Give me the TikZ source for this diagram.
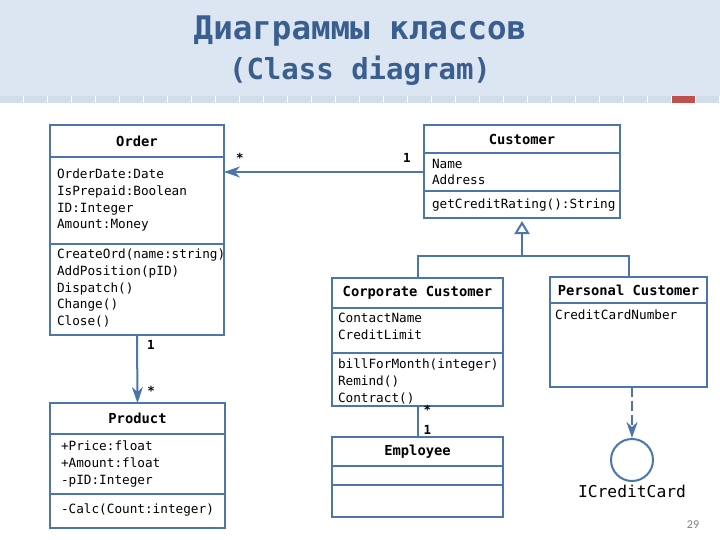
\documentclass[tikz,border=0pt]{standalone}
\usepackage{fontspec}
\setmonofont{DejaVu Sans Mono}
\setsansfont{Carlito}
\usetikzlibrary{positioning,arrows.meta}
\definecolor{umlblue}{RGB}{74,118,172}
\definecolor{titleblue}{RGB}{58,95,143}
\definecolor{bandblue}{RGB}{220,230,242}
\definecolor{stripblue}{RGB}{210,221,236}
\definecolor{markred}{RGB}{192,80,77}

\begin{document}
\begin{tikzpicture}[
    x=1pt, y=-1pt,
    line width=2pt,
    color=umlblue,
    every node/.style={text=black, font=\ttfamily\fontsize{12.7}{16.7}\selectfont},
    box/.style={draw=umlblue, fill=white, rectangle, inner sep=0pt, outer sep=0pt},
    head/.style={box, font=\ttfamily\bfseries\fontsize{13.8}{16.7}\selectfont},
    field/.style={anchor=north west, align=left, inner sep=0pt},
    mult/.style={font=\ttfamily\bfseries\fontsize{12.5}{14}\selectfont, inner sep=1pt},
    assoc/.style={-{Stealth[length=16pt, width=11pt, inset=5pt]}},
    gen/.style={-{Triangle[open, length=13pt, width=15pt, fill=white]}, shorten >=3pt},
    realize/.style={dash pattern=on 10pt off 4pt, -{Stealth[length=16pt, width=11pt, inset=5pt]}}
]
    \useasboundingbox (0,0) rectangle (720,540);

    % --- Title band ---
    \fill[bandblue] (0,0) rectangle (720,96);
    \foreach \i in {0,...,29}
        \fill[stripblue] ({\i*24},96) rectangle ({\i*24+23},103);
    \fill[markred] (672,96) rectangle (695,103);

    \node[text=titleblue, font=\ttfamily\bfseries\fontsize{32.5}{38}\selectfont] (title1) at (360,31) {Диаграммы классов};
    \node[text=titleblue, font=\ttfamily\bfseries\fontsize{29}{34}\selectfont] (title2) at (360,71) {(Class diagram)};

    % --- Order ---
    \node[head, anchor=north west, minimum width=174, minimum height=32] (orderH) at (50,125) {Order};
    \node[box, below=0pt of orderH, minimum width=174, minimum height=87] (orderA) {};
    \node[box, below=0pt of orderA, minimum width=174, minimum height=91] (orderM) {};
    \node[field] (orderAt) at ([shift={(6,11)}]orderA.north west) {OrderDate:Date\\IsPrepaid:Boolean\\ID:Integer\\Amount:Money};
    \node[field] (orderMt) at ([shift={(6,4)}]orderM.north west) {CreateOrd(name:string)\\AddPosition(pID)\\Dispatch()\\Change()\\Close()};

    % --- Customer ---
    \node[head, anchor=north west, minimum width=196, minimum height=28] (custH) at (424,125) {Customer};
    \node[box, below=0pt of custH, minimum width=196, minimum height=38] (custA) {};
    \node[box, below=0pt of custA, minimum width=196, minimum height=27] (custM) {};
    \node[field] (custAt) at ([shift={(7,5)}]custA.north west) {Name\\Address};
    \node[field] (custMt) at ([shift={(7,7)}]custM.north west) {getCreditRating():String};

    % --- Corporate Customer ---
    \node[head, anchor=north west, minimum width=171, minimum height=30] (corpH) at (332,278) {Corporate Customer};
    \node[box, below=0pt of corpH, minimum width=171, minimum height=45] (corpA) {};
    \node[box, below=0pt of corpA, minimum width=171, minimum height=53] (corpM) {};
    \node[field] (corpAt) at ([shift={(5,4)}]corpA.north west) {ContactName\\CreditLimit};
    \node[field] (corpMt) at ([shift={(5,5)}]corpM.north west) {billForMonth(integer)\\Remind()\\Contract()};

    % --- Personal Customer ---
    \node[head, anchor=north west, minimum width=157, minimum height=26] (persH) at (550,277) {Personal Customer};
    \node[box, below=0pt of persH, minimum width=157, minimum height=84] (persA) {};
    \node[field] (persAt) at ([shift={(4,6)}]persA.north west) {CreditCardNumber};

    % --- Product ---
    \node[head, anchor=north west, minimum width=175, minimum height=31] (prodH) at (50,403) {Product};
    \node[box, below=0pt of prodH, minimum width=175, minimum height=60] (prodA) {};
    \node[box, below=0pt of prodA, minimum width=175, minimum height=34] (prodM) {};
    \node[field] (prodAt) at ([shift={(10,6)}]prodA.north west) {+Price:float\\+Amount:float\\-pID:Integer};
    \node[field] (prodMt) at ([shift={(10,9)}]prodM.north west) {-Calc(Count:integer)};

    % --- Employee ---
    \node[head, anchor=north west, minimum width=171, minimum height=29] (empH) at (332,437) {Employee};
    \node[box, below=0pt of empH, minimum width=171, minimum height=19] (empA) {};
    \node[box, below=0pt of empA, minimum width=171, minimum height=32] (empM) {};

    % --- Interface ---
    \node[draw=umlblue, circle, minimum size=42, inner sep=0pt] (icc) at (632,460) {};
    \node[font=\ttfamily\fontsize{16.3}{19}\selectfont] (iccL) at (632,491) {ICreditCard};

    % --- Connectors ---
    \draw[assoc] (custA.west) -- node[mult, pos=0.085, above=7pt] {1} node[mult, pos=0.92, above=7pt] {*} (custA.west -| orderA.east);
    \draw[assoc] (orderM.south) -- node[mult, pos=0.15, right=8pt] {1} node[mult, pos=0.82, right=8pt] {*} (prodH.north);
    \draw (corpM.south) -- node[mult, pos=0.13, right=4pt] {*} node[mult, pos=0.77, right=4pt] {1} (empH.north);

    \coordinate (bus) at ([yshift=-38pt]custM.south);
    \draw (corpH.north) |- (bus) -| (persH.north);
    \draw[gen] (bus) -- (custM.south);

    \draw[realize] (icc.north |- persA.south) -- (icc.north);

    % Slide number
    \node[text=gray, font=\sffamily\fontsize{12}{14}\selectfont] (pnum) at (693,525) {29};

\end{tikzpicture}
\end{document}
